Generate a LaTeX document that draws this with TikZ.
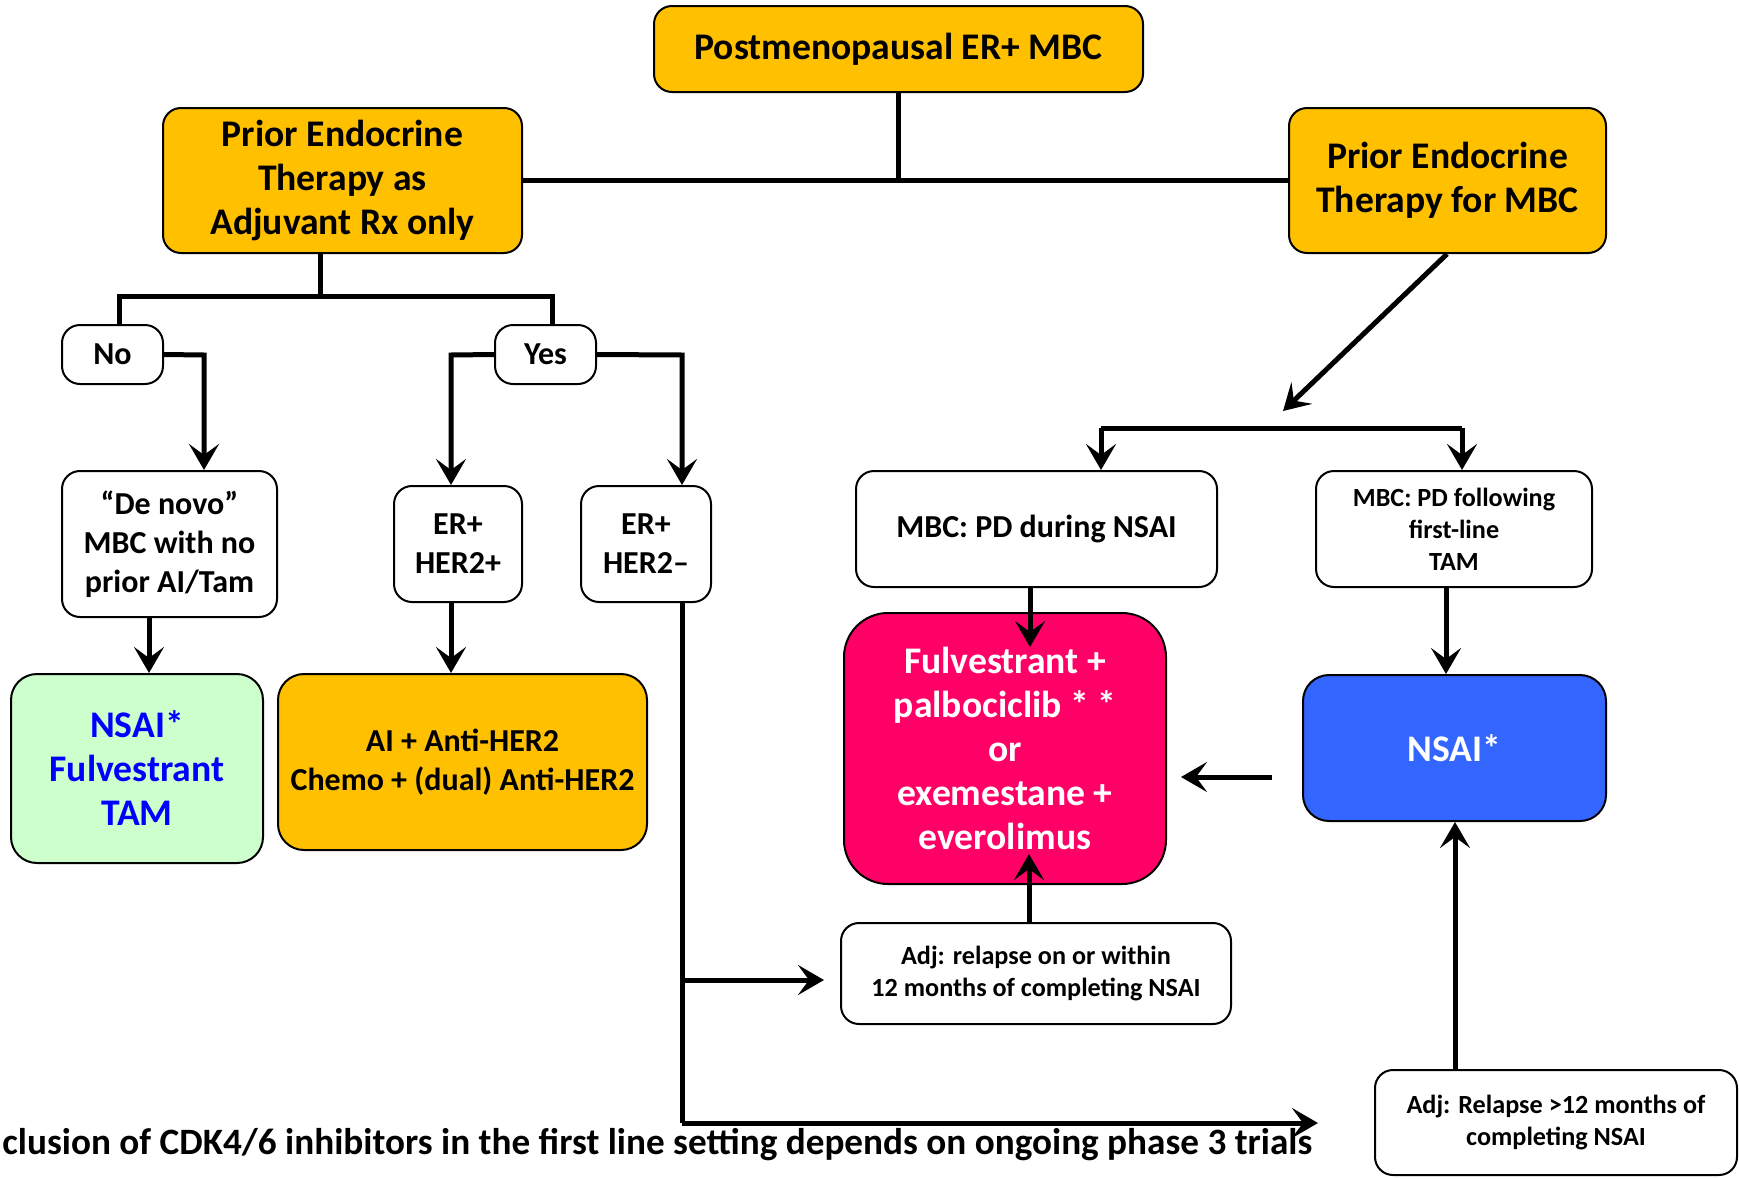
\documentclass[tikz,border=0pt]{standalone}
\usepackage{fontspec}
\setmainfont{Carlito}
\usetikzlibrary{arrows.meta}
\definecolor{rxyellow}{HTML}{FFC000}
\definecolor{rxgreen}{HTML}{CCFFCC}
\definecolor{rxpink}{HTML}{FF0066}
\definecolor{rxblue}{HTML}{3366FF}
\definecolor{rxtext}{HTML}{0000FF}
\tikzset{
  box/.style={draw=black, line width=1pt, rounded corners=9pt, align=center,
    inner sep=2pt, font=\bfseries\fontsize{16}{19.5}\selectfont},
  bigbox/.style={box, font=\bfseries\fontsize{18.8}{22}\selectfont},
  smallbox/.style={box, font=\bfseries\fontsize{13.1}{16}\selectfont},
  link/.style={line width=2.5pt},
  arrow/.style={link, -{Stealth[length=13pt, width=15pt, inset=5.5pt]}},
}
\begin{document}
\begin{tikzpicture}[x=0.5pt, y=-0.5pt]
  \useasboundingbox (0,0) rectangle (1739,1178);
  % top level
  \node[bigbox, fill=rxyellow, minimum width=244.5pt, minimum height=43pt] (top) at (898.5,49) {Postmenopausal ER+ MBC};
  \node[bigbox, fill=rxyellow, minimum width=179.5pt, minimum height=72.5pt] (adjrx) at (342.5,180.5) {Prior Endocrine\\Therapy as\\Adjuvant Rx only};
  \node[bigbox, fill=rxyellow, minimum width=158.5pt, minimum height=72.5pt] (mbcrx) at (1447.5,180.5) {Prior Endocrine\\Therapy for MBC};
  % adjuvant branch
  \node[box, minimum width=50.5pt, minimum height=29.5pt] (no) at (112.5,354.5) {No};
  \node[box, minimum width=50.5pt, minimum height=29.5pt] (yes) at (545.5,354.5) {Yes};
  \node[box, minimum width=107.5pt, minimum height=73pt] (denovo) at (169.5,544) {``De novo''\\MBC with no\\prior AI/Tam};
  \node[box, minimum width=64pt, minimum height=58pt] (herpos) at (458,544) {ER+\\HER2+};
  \node[box, minimum width=65pt, minimum height=58pt] (herneg) at (646,544) {ER+\\HER2--};
  \node[bigbox, fill=rxgreen, text=rxtext, rounded corners=13pt, minimum width=126pt, minimum height=94.5pt] (firstrx) at (137,768.5) {NSAI*\\Fulvestrant\\TAM};
  \node[box, fill=rxyellow, rounded corners=13pt, minimum width=184.5pt, minimum height=88pt] (aiher) at (462.5,762) {AI + Anti-HER2\\Chemo + (dual) Anti-HER2};
  % metastatic branch
  \node[box, minimum width=180.5pt, minimum height=58pt] (pdnsai) at (1036.5,529) {MBC: PD during NSAI};
  \node[smallbox, minimum width=138pt, minimum height=58pt] (pdtam) at (1454,529) {MBC: PD following\\first-line\\TAM};
  \node[bigbox, fill=rxpink, text=white, rounded corners=22pt, minimum width=161pt, minimum height=135.5pt] (combo) at (1005,748.5) {Fulvestrant +\\palbociclib * *\\or\\exemestane +\\everolimus};
  \node[bigbox, fill=rxblue, text=white, rounded corners=13pt, minimum width=151.5pt, minimum height=73pt] (nsai) at (1454.5,748) {NSAI*};
  \node[smallbox, minimum width=195pt, minimum height=50.5pt] (adjin) at (1036,973.5) {Adj: relapse on or within\\12 months of completing NSAI};
  \node[smallbox, minimum width=181pt, minimum height=52.5pt] (adjout) at (1556,1122.5) {Adj: Relapse >12 months of\\completing NSAI};
  \node[anchor=west, inner sep=0pt, font=\bfseries\fontsize{18.6}{22}\selectfont] (note) at (2,1145) {clusion of CDK4/6 inhibitors in the first line setting depends on ongoing phase 3 trials};
  % junction points
  \coordinate (topsplit) at (898.5,180);
  \coordinate (adjsplit) at (320,296);
  \coordinate (nosplit) at (119,296);
  \coordinate (yessplit) at (552,296);
  \coordinate (nobend) at (204,355);
  \coordinate (yesleft) at (451,355);
  \coordinate (yesright) at (682,355);
  \coordinate (herdown) at (682,1123);
  \coordinate (herbranch) at (682,980);
  \coordinate (mbcsplit) at (1283,411);
  \coordinate (pdleft) at (1101,428);
  \coordinate (pdright) at (1462,428);
  % connectors
  \draw[link] (top.south) -- (topsplit);
  \draw[link] (adjrx.east) -- (mbcrx.west);
  \draw[link] (adjsplit |- adjrx.south) -- (adjsplit);
  \draw[link] (nosplit |- no.north) -- (nosplit) -- (yessplit) -- (yessplit |- yes.north);
  \draw[arrow] (no.east) -- (nobend) -- (nobend |- denovo.north);
  \draw[arrow] (yes.west) -- (yesleft) -- (yesleft |- herpos.north);
  \draw[arrow] (yes.east) -- (yesright) -- (yesright |- herneg.north);
  \draw[arrow] (149,0 |- denovo.south) -- (149,0 |- firstrx.north);
  \draw[arrow] (yesleft |- herpos.south) -- (yesleft |- aiher.north);
  \draw[link] (herdown |- herneg.south) -- (herdown);
  \draw[arrow, shorten >=28pt] (herdown) -- (herdown -| adjout.west);
  \draw[arrow, shorten >=8pt] (herbranch) -- (herbranch -| adjin.west);
  \draw[arrow] (1447,0 |- mbcrx.south) -- (mbcsplit);
  \draw[link] (pdleft) -- (pdright);
  \draw[arrow] (pdleft) -- (pdleft |- pdnsai.north);
  \draw[arrow] (pdright) -- (pdright |- pdtam.north);
  \draw[arrow] (1030,0 |- pdnsai.south) -- (1030,647);
  \draw[arrow] (1446,0 |- pdtam.south) -- (1446,0 |- nsai.north);
  \draw[arrow, shorten <=15pt, shorten >=7pt] (nsai.west |- 0,777) -- (combo.east |- 0,777);
  \draw[arrow] (1029,0 |- adjin.north) -- (1029,854);
  \draw[arrow] (1455,0 |- adjout.north) -- (1455,0 |- nsai.south);
\end{tikzpicture}
\end{document}
